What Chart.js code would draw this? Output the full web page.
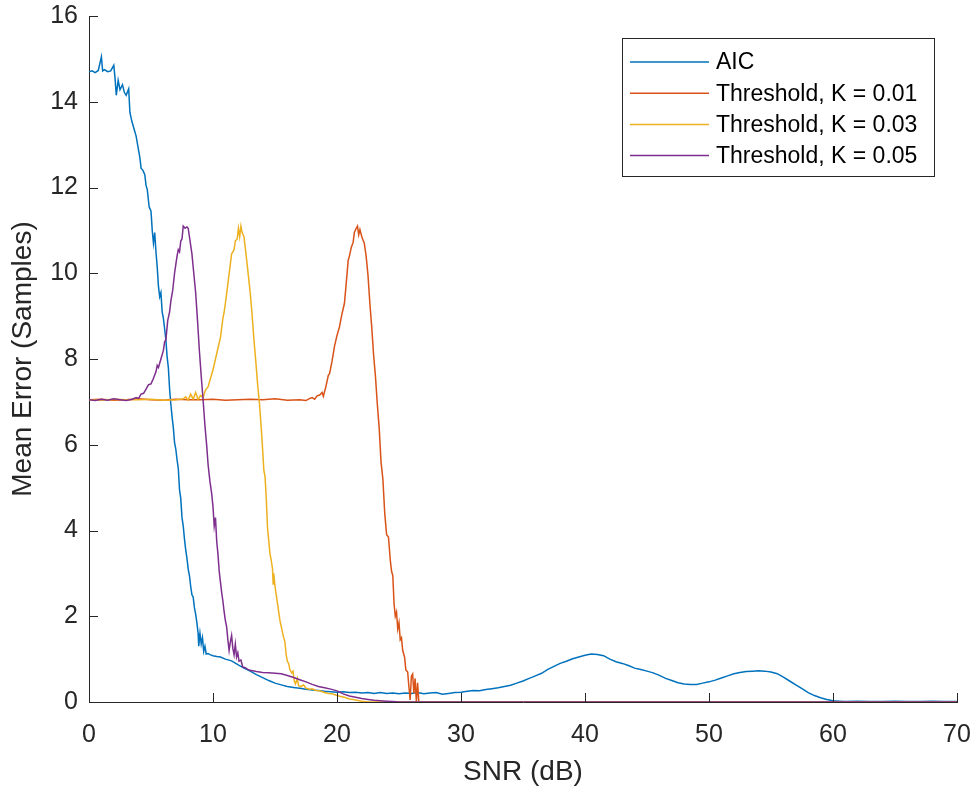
<!DOCTYPE html>
<html>
<head>
<meta charset="utf-8">
<script src="https://cdn.jsdelivr.net/npm/chart.js@4/dist/chart.umd.min.js"></script>
<style>
html,body{margin:0;padding:0;background:#fff;}
#wrap{width:974px;height:787px;}
</style>
</head>
<body>
<div id="wrap"><canvas id="c" width="974" height="787"></canvas></div>
<script>
// ---- Data ----
const seriesLabels = ["AIC", "Threshold, K = 0.01", "Threshold, K = 0.03", "Threshold, K = 0.05"];
const xTicks = [0, 10, 20, 30, 40, 50, 60, 70];
const yTicks = [0, 2, 4, 6, 8, 10, 12, 14, 16];

const snrAIC = [0,0.25,0.5,0.75,1.0,1.1,1.25,1.5,1.75,2.0,2.1,2.2,2.35,2.5,2.7,2.85,3.0,3.2,3.3,3.45,3.6,3.8,3.95,4.1,4.2,4.35,4.5,4.6,4.7,4.85,5.0,5.1,5.2,5.3,5.4,5.5,5.6,5.7,5.8,5.9,6.0,6.1,6.2,6.3,6.4,6.5,6.6,6.7,6.8,6.9,7.0,7.1,7.2,7.3,7.4,7.5,7.6,7.7,7.8,7.9,8.0,8.1,8.2,8.3,8.4,8.5,8.6,8.7,8.8,8.85,8.95,9.05,9.15,9.25,9.35,9.45,9.6,9.8,10.0,10.3,10.6,11.0,11.5,12.0,12.5,13.0,13.5,14.0,14.5,15.0,15.5,16.0,16.5,17.0,17.5,18.0,18.5,19.0,19.5,20,20.5,21,21.5,22,22.5,23,23.5,24,24.5,25,25.5,26,26.5,27,27.5,28,28.5,29,29.5,30,30.5,31,31.5,32,32.5,33,33.5,34,34.5,35,35.5,36,36.5,37,37.5,38,38.5,39,39.5,40,40.5,41,41.5,42,42.5,43,43.5,44,44.5,45,45.5,46,46.5,47,47.5,48,48.5,49,49.5,50,50.5,51,51.5,52,52.5,53,53.5,54,54.5,55,55.5,56,56.5,57,57.5,58,58.5,59,59.5,60,60.5,61,62,63,64,65,66,67,68,69,70];
const errAIC = [14.70,14.72,14.68,14.73,15.05,14.72,14.75,14.70,14.72,14.85,14.55,14.15,14.50,14.28,14.40,14.22,14.15,14.30,13.75,13.55,13.40,13.20,12.95,12.70,12.45,12.40,12.30,12.05,11.95,11.55,11.45,11.00,10.70,10.95,10.50,10.15,9.70,9.45,9.55,9.10,8.95,8.70,8.45,8.05,7.80,7.30,6.95,6.65,6.40,6.05,5.90,5.65,5.45,4.95,4.75,4.30,4.10,3.80,3.55,3.35,3.10,2.95,2.70,2.50,2.45,2.20,2.05,1.85,1.60,1.30,1.60,1.35,1.50,1.18,1.30,1.12,1.13,1.10,1.08,1.06,1.05,1.00,0.96,0.87,0.79,0.72,0.64,0.57,0.50,0.44,0.40,0.36,0.34,0.32,0.30,0.28,0.27,0.25,0.24,0.23,0.24,0.22,0.23,0.21,0.22,0.20,0.22,0.20,0.21,0.19,0.21,0.20,0.22,0.19,0.21,0.22,0.18,0.20,0.22,0.23,0.25,0.27,0.26,0.29,0.31,0.33,0.36,0.39,0.44,0.49,0.55,0.61,0.67,0.76,0.83,0.90,0.95,1.01,1.05,1.09,1.12,1.11,1.08,1.00,0.94,0.90,0.85,0.79,0.76,0.72,0.68,0.62,0.55,0.50,0.45,0.42,0.41,0.41,0.44,0.47,0.51,0.56,0.61,0.66,0.69,0.71,0.72,0.73,0.72,0.70,0.66,0.58,0.49,0.40,0.31,0.22,0.15,0.10,0.06,0.03,0.02,0.01,0.02,0.01,0.01,0.02,0.01,0.01,0.02,0.01,0.01];

const snrK01 = [0,1,2,3,4,5,6,7,8,9,10,11,12,13,14,15,16,17,17.5,17.8,18.0,18.2,18.4,18.6,18.8,18.9,19.1,19.3,19.4,19.6,19.8,20.0,20.2,20.4,20.6,20.8,20.9,21.0,21.15,21.3,21.4,21.55,21.65,21.75,21.85,22.0,22.2,22.35,22.5,22.65,22.8,22.95,23.1,23.25,23.4,23.55,23.7,23.85,24.0,24.15,24.3,24.4,24.5,24.6,24.7,24.8,24.9,25.0,25.1,25.2,25.3,25.45,25.55,25.7,25.8,25.9,26.0,26.1,26.2,26.3,26.4,26.5,26.6,27,35,45,55,70];
const errK01 = [7.05,7.06,7.04,7.05,7.07,7.05,7.04,7.06,7.05,7.05,7.06,7.04,7.05,7.06,7.05,7.07,7.04,7.05,7.03,7.08,7.10,7.06,7.14,7.16,7.22,7.13,7.35,7.62,7.66,7.95,8.30,8.55,8.75,9.05,9.30,9.95,10.30,10.40,10.60,10.72,10.95,11.05,11.10,10.90,11.02,10.85,10.70,10.40,9.95,9.30,8.75,8.10,7.60,6.95,6.40,5.60,5.20,4.40,3.90,3.85,3.30,3.05,2.95,2.30,2.00,2.10,1.70,1.85,1.45,1.50,1.20,1.05,0.75,0.70,0.35,0.05,0.60,0.65,0.20,0.55,0.00,0.45,0.00,0,0,0,0,0];

const snrK03 = [0,1,2,3,4,5,6,7,7.6,7.8,8.0,8.2,8.4,8.6,8.8,9.0,9.2,9.4,9.6,9.8,10.0,10.2,10.4,10.6,10.8,10.9,11.0,11.2,11.35,11.5,11.7,11.8,11.95,12.05,12.15,12.25,12.35,12.5,12.7,12.85,13.0,13.15,13.3,13.45,13.6,13.75,13.9,14.0,14.1,14.2,14.3,14.4,14.5,14.6,14.7,14.8,14.85,14.9,15.0,15.1,15.25,15.4,15.55,15.7,15.8,15.9,16.0,16.1,16.2,16.35,16.45,16.55,16.65,16.8,16.9,17.1,17.3,17.5,17.8,18.0,18.3,18.6,19.0,19.3,19.6,20.0,20.3,20.6,21.0,21.3,21.6,22.0,22.5,30,40,50,60,70];
const errK03 = [7.05,7.04,7.06,7.05,7.05,7.06,7.04,7.05,7.07,7.12,7.04,7.18,7.06,7.22,7.05,7.15,7.10,7.28,7.35,7.55,7.75,8.00,8.25,8.50,8.95,9.10,9.30,9.75,10.10,10.45,10.55,10.75,10.80,11.05,10.85,11.10,10.95,10.85,10.35,9.95,9.55,9.05,8.45,7.95,7.40,6.95,6.35,5.90,5.40,5.25,4.72,4.05,3.75,3.45,3.30,3.10,2.75,3.00,2.70,2.50,2.20,1.90,1.70,1.50,1.40,1.10,0.95,0.90,0.75,0.68,0.72,0.50,0.42,0.55,0.38,0.36,0.40,0.32,0.30,0.31,0.27,0.26,0.22,0.20,0.19,0.15,0.13,0.11,0.07,0.06,0.04,0.02,0.00,0,0,0,0,0];

const snrK05 = [0,0.5,1,1.5,2,2.5,3,3.5,3.8,4.0,4.2,4.4,4.6,4.8,5.0,5.2,5.4,5.5,5.6,5.8,6.0,6.1,6.2,6.35,6.5,6.6,6.75,6.9,7.0,7.1,7.2,7.3,7.4,7.5,7.6,7.75,7.9,8.0,8.15,8.3,8.45,8.6,8.75,8.9,9.05,9.2,9.35,9.5,9.6,9.75,9.9,10.0,10.1,10.2,10.3,10.4,10.5,10.6,10.7,10.8,10.9,11.0,11.1,11.2,11.3,11.4,11.5,11.6,11.7,11.8,11.9,12.0,12.1,12.25,12.4,12.6,12.8,13.0,13.5,14.0,14.5,15.0,15.5,16.0,16.5,17.0,17.5,18.0,18.5,19.0,19.5,20.0,20.5,21.0,21.5,22.0,22.5,23.0,23.5,24.0,24.5,25,35,45,55,70];
const errK05 = [7.05,7.03,7.06,7.04,7.07,7.05,7.03,7.06,7.10,7.08,7.18,7.20,7.30,7.40,7.42,7.55,7.70,7.85,7.80,8.00,8.20,8.40,8.45,8.90,9.10,9.35,9.60,10.00,10.20,10.40,10.55,10.50,10.75,10.80,11.10,11.05,11.08,11.05,10.75,10.45,10.00,9.55,8.90,8.20,7.60,7.05,6.45,5.95,5.55,5.15,4.85,4.55,4.10,4.30,3.75,3.45,3.05,2.80,2.55,2.35,2.10,1.90,1.75,1.45,1.20,1.40,1.55,1.25,1.10,1.35,1.05,1.15,0.95,0.98,0.82,0.80,0.76,0.74,0.71,0.69,0.68,0.67,0.66,0.62,0.57,0.52,0.47,0.41,0.36,0.33,0.30,0.26,0.19,0.14,0.11,0.08,0.06,0.04,0.03,0.02,0.01,0,0,0,0,0];

const seriesColors = ["#0072BD", "#D95319", "#EDB120", "#7E2F8E"];

// ---- Build datasets ----
function pts(xs, ys){ return xs.map((x,i)=>({x:x, y:ys[i]})); }
const allX = [snrAIC, snrK01, snrK03, snrK05];
const allY = [errAIC, errK01, errK03, errK05];
const datasets = seriesLabels.map((lab,i)=>({
  label: lab,
  data: pts(allX[i], allY[i]),
  borderColor: seriesColors[i],
  backgroundColor: seriesColors[i],
  borderWidth: 1.5,
  pointRadius: 0,
  tension: 0,
  fill: false,
  order: 4 - i
}));

const AX = '#262626';
const FONT = '"Liberation Sans", Arial, Helvetica, sans-serif';

// inward tick marks (MATLAB style) + legend box
const matlabPlugin = {
  id: 'matlab',
  afterDraw(chart){
    const ctx = chart.ctx;
    const xs = chart.scales.x, ys = chart.scales.y, ca = chart.chartArea;
    ctx.save();
    ctx.strokeStyle = AX;
    ctx.lineWidth = 1;
    xTicks.forEach(v=>{
      const px = Math.round(xs.getPixelForValue(v)) + 0.5;
      ctx.beginPath(); ctx.moveTo(px, ca.bottom); ctx.lineTo(px, ca.bottom - 9); ctx.stroke();
    });
    yTicks.forEach(v=>{
      const py = Math.round(ys.getPixelForValue(v)) + 0.5;
      ctx.beginPath(); ctx.moveTo(ca.left, py); ctx.lineTo(ca.left + 9, py); ctx.stroke();
    });
    // legend
    const bx = 622, by = 38, bw = 312, bh = 138;
    ctx.fillStyle = '#fff';
    ctx.fillRect(bx, by, bw, bh);
    ctx.strokeStyle = AX;
    ctx.lineWidth = 1;
    ctx.strokeRect(bx + 0.5, by + 0.5, bw, bh);
    ctx.font = '23px ' + FONT;
    ctx.textBaseline = 'middle';
    ctx.textAlign = 'left';
    chart.data.datasets.forEach((ds, i)=>{
      const cy = 62 + i * 31.2;
      ctx.strokeStyle = ds.borderColor;
      ctx.lineWidth = 1.5;
      ctx.beginPath(); ctx.moveTo(630, cy); ctx.lineTo(709, cy); ctx.stroke();
      ctx.fillStyle = '#000';
      ctx.fillText(ds.label, 716, cy + 1);
    });
    ctx.restore();
  }
};

new Chart(document.getElementById('c'), {
  type: 'line',
  data: { datasets },
  options: {
    responsive: false,
    animation: false,
    devicePixelRatio: 1,
    layout: { padding: { left: 0, right: 17, top: 16, bottom: 0 } },
    plugins: { legend: { display: false }, tooltip: { enabled: false } },
    scales: {
      x: {
        type: 'linear', min: 0, max: 70,
        afterFit(s){ s.height = 85; s.paddingLeft = 0; s.paddingRight = 0; },
        afterBuildTicks(s){ s.ticks = xTicks.map(v=>({value:v})); },
        grid: { display: false, drawTicks: false },
        border: { display: true, color: AX, width: 1 },
        ticks: { color: AX, font: { family: FONT, size: 25 }, padding: 18, maxRotation: 0 },
        title: { display: true, text: 'SNR (dB)', color: AX, font: { family: FONT, size: 28, lineHeight: 1.0 }, padding: { top: 0, bottom: 1 } }
      },
      y: {
        type: 'linear', min: 0, max: 16,
        afterFit(s){ s.width = 89; s.paddingTop = 0; s.paddingBottom = 0; },
        afterBuildTicks(s){ s.ticks = yTicks.map(v=>({value:v})); },
        grid: { display: false, drawTicks: false },
        border: { display: true, color: AX, width: 1 },
        ticks: { color: AX, font: { family: FONT, size: 25 }, padding: 11 },
        title: { display: true, text: 'Mean Error (Samples)', color: AX, font: { family: FONT, size: 28, lineHeight: 1.0 }, padding: { top: 9, bottom: 0 } }
      }
    }
  },
  plugins: [matlabPlugin]
});
</script>
</body>
</html>
